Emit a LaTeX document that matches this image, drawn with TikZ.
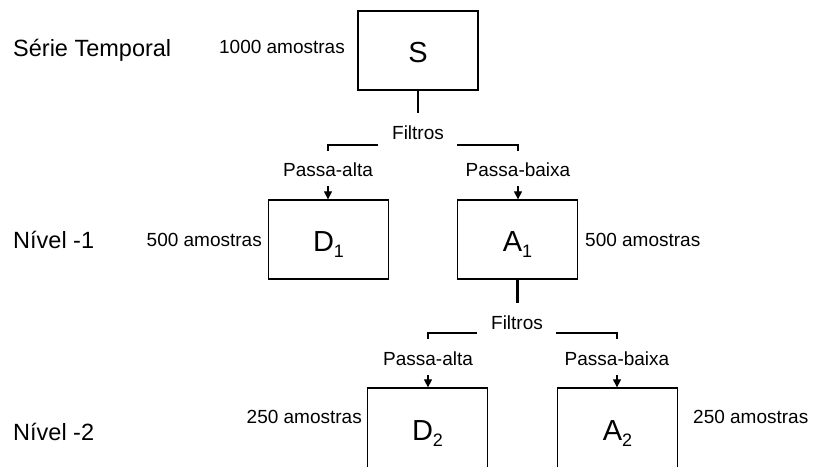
\documentclass[tikz,border=0pt]{standalone}
\usepackage{fontspec}
\setmainfont{Liberation Sans}
\usetikzlibrary{arrows.meta}
\tikzset{
  box/.style={draw, line width=1.3pt, minimum width=120pt, minimum height=79pt, inner sep=0pt, text height=23pt, text depth=0pt, font=\fontsize{29}{32}\selectfont},
  lowbox/.style={box, minimum height=84pt, text height=20pt},
  lbl/.style={inner sep=0pt, font=\fontsize{19}{22}\selectfont},
  lvl/.style={inner sep=0pt, anchor=west, font=\fontsize{23.5}{27}\selectfont},
  conn/.style={line width=1.3pt},
  stem/.style={line width=2.2pt},
  arr/.style={line width=1.2pt, -{Triangle[length=8pt,width=8pt]}}
}
\newcommand{\sub}[1]{\raisebox{-0.24em}{\fontsize{18}{18}\selectfont #1}}
\begin{document}
\begin{tikzpicture}[x=1pt,y=-1pt]
\useasboundingbox (0,0) rectangle (818,466);
% level labels
\node[lvl] (lt) at (13,50) {Série Temporal};
\node[lvl] (l1) at (13,240) {Nível -1};
\node[lvl] (l2) at (13,432) {Nível -2};
% boxes
\node[box] (S) at (418,50.5) {S};
\node[box] (D1) at (328.5,239.5) {D\sub{1}};
\node[box] (A1) at (517.5,239.5) {A\sub{1}};
\node[lowbox] (D2) at (427.5,430) {D\sub{2}};
\node[lowbox] (A2) at (617.5,430) {A\sub{2}};
% sample counts
\node[lbl, anchor=east] (nS) at (345,47) {1000 amostras};
\node[lbl, anchor=east] (nD1) at (262,240) {500 amostras};
\node[lbl, anchor=west] (nA1) at (585,240) {500 amostras};
\node[lbl, anchor=east] (nD2) at (362,417) {250 amostras};
\node[lbl, anchor=west] (nA2) at (693,417) {250 amostras};
% first split
\node[lbl] (F1) at (418,133) {Filtros};
\node[lbl] (P1) at (328,170) {Passa-alta};
\node[lbl] (B1) at (518,170) {Passa-baixa};
\coordinate (F1b) at (418,113);
\draw[stem] (S.south) -- (F1b);
\draw[conn] (378,145) -- (328,145) -- (328,151);
\draw[conn] (457,145) -- (518,145) -- (518,151);
\coordinate (P1a) at (328,186);
\coordinate (B1a) at (518,186);
\draw[arr] (P1a) -- (D1.north -| P1a);
\draw[arr] (B1a) -- (A1.north -| B1a);
% second split
\node[lbl] (F2) at (517,323) {Filtros};
\node[lbl] (P2) at (428,359) {Passa-alta};
\node[lbl] (B2) at (617,359) {Passa-baixa};
\coordinate (F2b) at (517.5,303);
\draw[stem] (A1.south) -- (F2b);
\draw[conn] (477,333) -- (428,333) -- (428,339);
\draw[conn] (556,333) -- (617,333) -- (617,339);
\coordinate (P2a) at (428,375);
\coordinate (B2a) at (617,375);
\draw[arr] (P2a) -- (D2.north -| P2a);
\draw[arr] (B2a) -- (A2.north -| B2a);
\end{tikzpicture}
\end{document}
